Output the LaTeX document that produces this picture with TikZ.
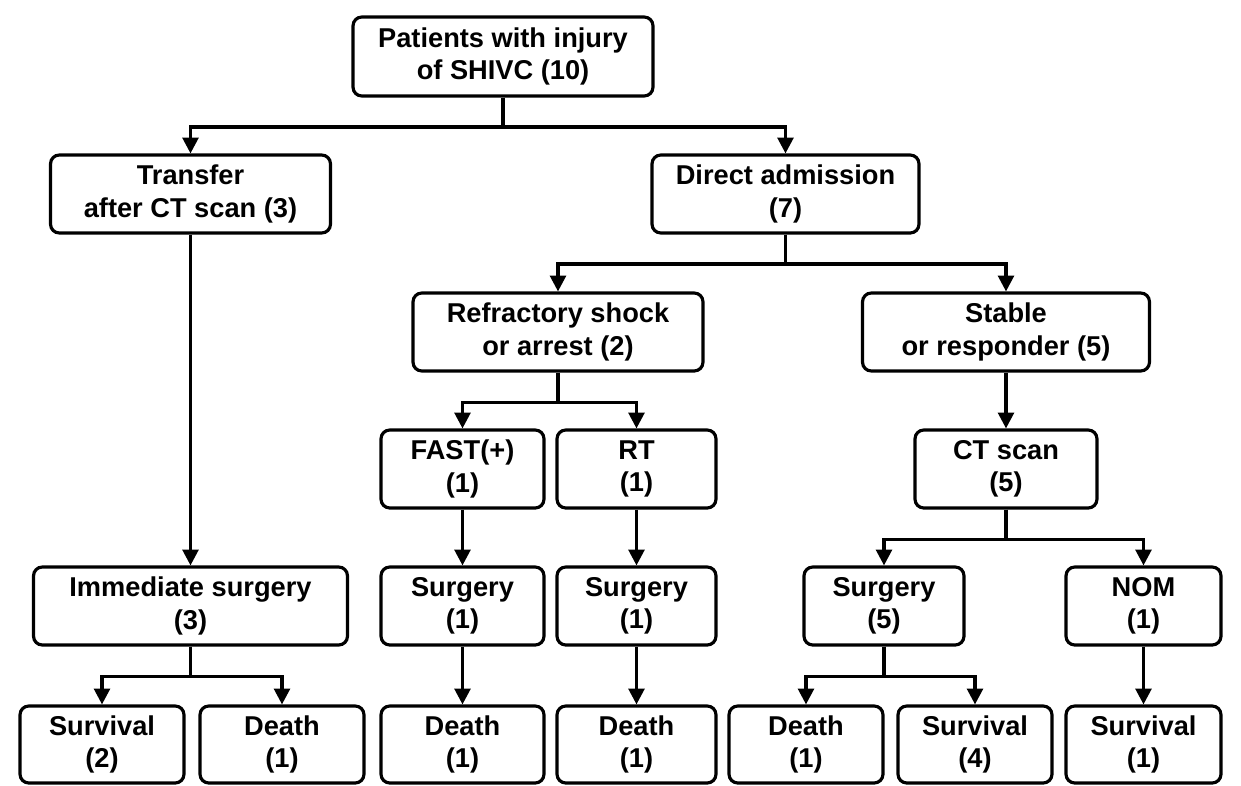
\documentclass[tikz,border=0pt]{standalone}
\usepackage{fontspec}
\setmainfont{Liberation Sans}
\usepackage{tikz}
\usetikzlibrary{arrows.meta}

\begin{document}
\begin{tikzpicture}[x=0.02cm,y=-0.02cm]
\tikzstyle{box}=[draw,line width=1.8pt,rounded corners=5pt,align=center,minimum height=1.56cm,inner sep=2pt,font=\fontsize{15.5}{18.5}\selectfont\bfseries]
\tikzstyle{conn}=[line width=1.8pt,-{Triangle[length=9pt,width=9pt]}]
\useasboundingbox (0,0) rectangle (1241,785);

\node[box,minimum width=6cm,minimum height=1.58cm] (pat) at (503,56.5) {Patients with injury\\of SHIVC (10)};
\node[box,minimum width=5.6cm] (trans) at (190.5,194) {Transfer\\after CT scan (3)};
\node[box,minimum width=5.34cm] (direct) at (785.5,194) {Direct admission\\(7)};
\node[box,minimum width=5.8cm] (refr) at (558,332) {Refractory shock\\or arrest (2)};
\node[box,minimum width=5.74cm] (stab) at (1006,332) {Stable\\or responder (5)};

\foreach \n/\x/\w/\t in {fast/462.5/3.26/FAST(+)\\(1), rt/636.5/3.18/RT\\(1), ct/1006/3.64/CT scan\\(5)}
{
    \node[box,minimum width=\w cm] (\n) at (\x,469) {\t};
}
\foreach \n/\x/\w/\t in {imm/190.5/6.28/Immediate surgery\\(3), surgA/462.5/3.26/Surgery\\(1), surgB/636.5/3.18/Surgery\\(1), surgC/884/3.2/Surgery\\(5), nom/1143.5/3.1/NOM\\(1)}
{
    \node[box,minimum width=\w cm] (\n) at (\x,606) {\t};
}
\foreach \n/\x/\w/\t in {survA/102/3.28/Survival\\(2), deathA/282/3.28/Death\\(1), deathB/462.5/3.26/Death\\(1), deathC/636.5/3.18/Death\\(1), deathD/806/3.08/Death\\(1), survB/975/3.08/Survival\\(4), survC/1143.5/3.1/Survival\\(1)}
{
    \node[box,minimum width=\w cm,minimum height=1.54cm] (\n) at (\x,744.5) {\t};
}

\foreach \a/\b/\c in {pat/trans/direct, direct/refr/stab, refr/fast/rt, ct/surgC/nom, imm/survA/deathA, surgC/deathD/survB}
{
    \draw[conn] (\a.south) -- ++(0,29.5) -| (\b.north);
    \draw[conn] (\a.south) -- ++(0,29.5) -| (\c.north);
}
\foreach \a/\b in {trans/imm, stab/ct, fast/surgA, surgA/deathB, rt/surgB, surgB/deathC, nom/survC}
    \draw[conn] (\a) -- (\b);
\end{tikzpicture}
\end{document}
